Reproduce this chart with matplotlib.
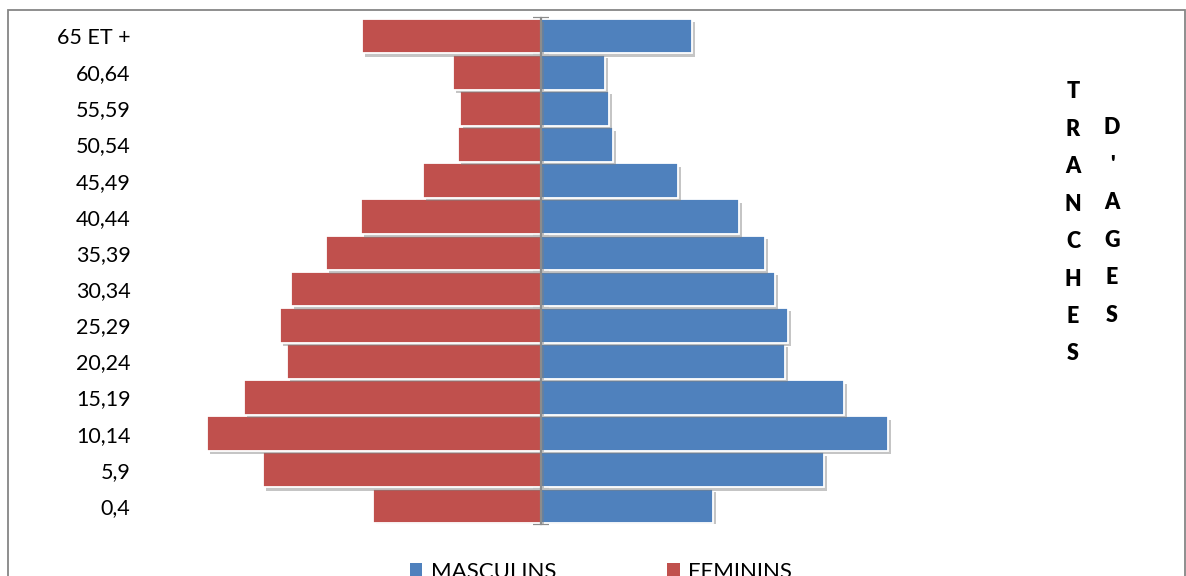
import matplotlib
matplotlib.use("Agg")
import matplotlib.pyplot as plt
import matplotlib.patheffects as pe
from matplotlib.patches import Rectangle
import numpy as np

plt.rcParams['font.family'] = ['Lato', 'DejaVu Sans']

categories = ["0,4", "5,9", "10,14", "15,19", "20,24", "25,29", "30,34",
              "35,39", "40,44", "45,49", "50,54", "55,59", "60,64", "65 ET +"]
masculins = [172, 283, 347, 303, 244, 247, 234, 224, 198, 137, 72, 68, 64, 151]
feminins = [168, 278, 334, 297, 254, 261, 250, 215, 180, 118, 83, 81, 88, 179]
side_col1 = "TRANCHES"
side_col2 = "D'AGES"

blue = "#4F81BD"
red = "#C0504D"

fig = plt.figure(figsize=(11.86, 5.76), dpi=100)
ax = fig.add_axes([150/1186, 1 - 524/576, 782/1186, 506/576])

y = np.arange(len(categories))
shadow = [pe.SimplePatchShadow(offset=(2.5, -2.5), shadow_rgbFace='#7f7f7f', alpha=0.45), pe.Normal()]
bm = ax.barh(y, masculins, height=0.96, color=blue, edgecolor='white', linewidth=1.3,
             label="MASCULINS", zorder=2)
bf = ax.barh(y, [-v for v in feminins], height=0.96, color=red, edgecolor='white', linewidth=1.3,
             label="FEMININS", zorder=2)
for b in list(bm) + list(bf):
    b.set_path_effects(shadow)

ax.set_xlim(-391, 391)
ax.set_ylim(-0.5, len(categories) - 0.5)
ax.set_yticks(y)
ax.set_yticklabels(categories)
ax.set_yticks(np.arange(len(categories) + 1) - 0.5, minor=True)
ax.set_xticks([])

for s in ['top', 'bottom', 'left']:
    ax.spines[s].set_visible(False)
ax.spines['right'].set_position(('data', 0))
ax.spines['right'].set_color('#8c8c8c')
ax.spines['right'].set_linewidth(1.6)
ax.spines['right'].set_zorder(3)
ax.tick_params(axis='y', which='major', length=0, pad=14, left=True, right=False,
               labelsize=15.5, labelcolor='black', labelleft=True, labelright=False)
ax.tick_params(axis='y', which='minor', left=False, right=True, direction='inout',
               length=12, width=1.6, color='#8c8c8c', labelleft=False, labelright=False)

# side title (stacked letters)
step = 37.4
for i, ch in enumerate(side_col1):
    fig.text(1073/1186, 1 - (92 + i*step)/576, ch, ha='center', va='center',
             fontsize=15.5, fontweight='heavy')
for i, ch in enumerate(side_col2):
    fig.text(1112/1186, 1 - (128 + i*step)/576, ch, ha='center', va='center',
             fontsize=15.5, fontweight='heavy')

# legend
leg = fig.legend(handles=[bm, bf], labels=["MASCULINS", "FEMININS"], loc='center',
                 bbox_to_anchor=(601/1186, 1 - 572/576), ncol=2, frameon=False,
                 fontsize=16, handlelength=0.55, handleheight=0.55, handletextpad=0.4,
                 columnspacing=5.0)
for h in leg.legend_handles:
    h.set_path_effects([])
    h.set_edgecolor('none')

# frame
fig.patches.append(Rectangle((8/1186, -0.1), (1185 - 8)/1186, 1.1 - 10/576,
                             transform=fig.transFigure, fill=False,
                             edgecolor='#868686', linewidth=1.3))

fig.savefig("out.png", dpi=100)
